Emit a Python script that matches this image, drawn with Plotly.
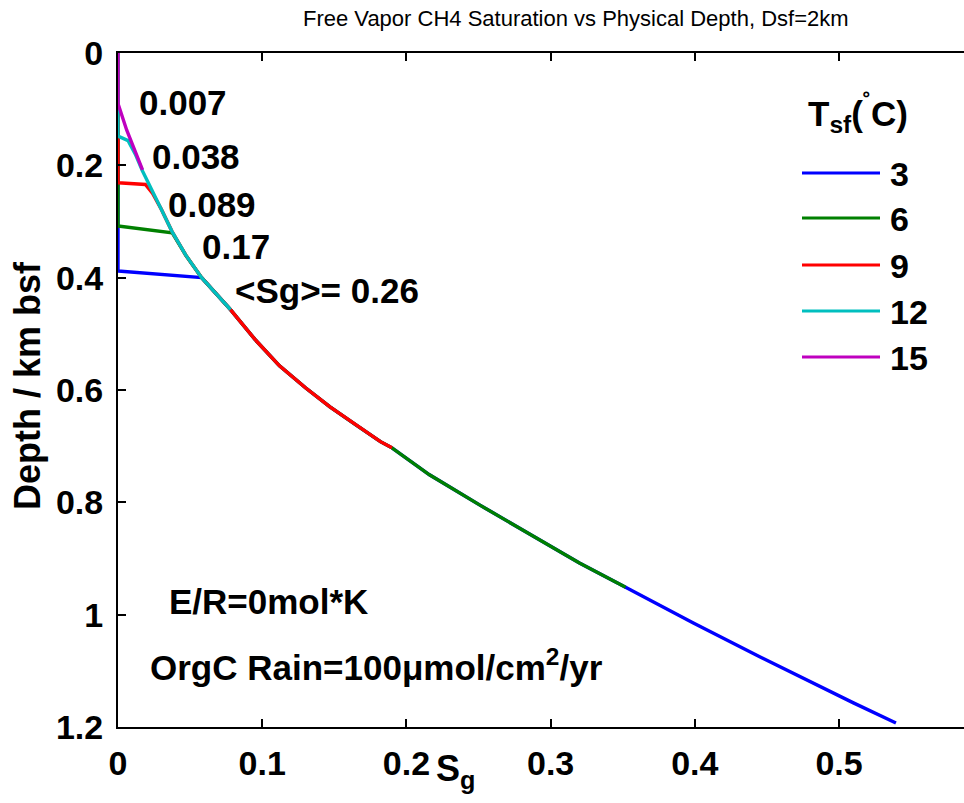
import plotly.graph_objects as go

FONT = "Liberation Sans"

# Temperatures (legend) and colours
temps = ["3", "6", "9", "12", "15"]
colors = ["#0000FF", "#008000", "#FF0000", "#00BFBF", "#BF00BF"]

# Sg (x) and depth km bsf (y) per series
sg_3 = [0.0, 0.0, 0.058, 0.078, 0.095, 0.112, 0.130, 0.147, 0.165, 0.182, 0.190, 0.216, 0.251, 0.286, 0.320, 0.352, 0.399, 0.445, 0.478, 0.510, 0.5395]
dp_3 = [0.0, 0.388, 0.400, 0.457, 0.510, 0.557, 0.596, 0.630, 0.662, 0.692, 0.703, 0.751, 0.805, 0.858, 0.908, 0.951, 1.015, 1.075, 1.117, 1.157, 1.193]

sg_6 = [0.0, 0.0, 0.0375, 0.047, 0.058, 0.078, 0.095, 0.112, 0.130, 0.147, 0.165, 0.182, 0.190, 0.216, 0.251, 0.286, 0.320, 0.352]
dp_6 = [0.0, 0.308, 0.320, 0.360, 0.400, 0.457, 0.510, 0.557, 0.596, 0.630, 0.662, 0.692, 0.703, 0.751, 0.805, 0.858, 0.908, 0.951]

sg_9 = [0.0, 0.0, 0.019, 0.024, 0.030, 0.0375, 0.047, 0.058, 0.078, 0.095, 0.112, 0.130, 0.147, 0.165, 0.182, 0.190]
dp_9 = [0.0, 0.231, 0.234, 0.250, 0.278, 0.318, 0.360, 0.400, 0.457, 0.510, 0.557, 0.596, 0.630, 0.662, 0.692, 0.703]

sg_12 = [0.0, 0.0, 0.007, 0.012, 0.017, 0.024, 0.030, 0.0375, 0.047, 0.058, 0.078]
dp_12 = [0.0, 0.148, 0.156, 0.180, 0.210, 0.245, 0.278, 0.318, 0.360, 0.400, 0.457]

sg_15 = [0.0, 0.0, 0.006, 0.012, 0.017]
dp_15 = [0.0, 0.090, 0.137, 0.175, 0.208]

series_sg = [sg_3, sg_6, sg_9, sg_12, sg_15]
series_dp = [dp_3, dp_6, dp_9, dp_12, dp_15]

# Mean Sg labels (text, x, y in data units)
mean_labels = ["0.007", "0.038", "0.089", "0.17", "&lt;Sg&gt;= 0.26"]
mean_x = [0.013, 0.022, 0.033, 0.057, 0.080]
mean_y = [0.089, 0.185, 0.270, 0.345, 0.422]

x_ticks = [0, 0.1, 0.2, 0.3, 0.4, 0.5]
x_tick_text = ["0", "0.1", "0.2", "0.3", "0.4", "0.5"]
y_ticks = [0, 0.2, 0.4, 0.6, 0.8, 1.0, 1.2]
y_tick_text = ["0", "0.2", "0.4", "0.6", "0.8", "1", "1.2"]

fig = go.Figure()
for t, c, xs, ys in zip(temps, colors, series_sg, series_dp):
    fig.add_trace(go.Scatter(x=xs, y=ys, mode="lines", name=t,
                             line=dict(color=c, width=3.4), showlegend=False))

W, H = 964, 803
ML, MT, MB = 118, 53, 76
fig.update_layout(
    width=W, height=H,
    margin=dict(l=ML, r=0, t=MT, b=MB),
    paper_bgcolor="white", plot_bgcolor="white",
    font=dict(family=FONT, color="black"),
    xaxis=dict(range=[0, (W - ML) / 1442.0], tickvals=x_ticks, ticktext=x_tick_text,
               showgrid=False, zeroline=False, showline=True, linecolor="black", linewidth=2,
               mirror="ticks", ticks="inside", ticklen=8, tickwidth=1.5, tickcolor="black",
               tickfont=dict(family=FONT, size=34, weight="bold"), ticklabelstandoff=5),
    yaxis=dict(range=[1.2, 0], tickvals=y_ticks, ticktext=y_tick_text,
               showgrid=False, zeroline=False, showline=True, linecolor="black", linewidth=2,
               mirror=False, ticks="inside", ticklen=8, tickwidth=1.5, tickcolor="black",
               tickfont=dict(family=FONT, size=34, weight="bold"), ticklabelstandoff=6),
)

ann = []
# title
ann.append(dict(text="Free Vapor CH4 Saturation vs Physical Depth, Dsf=2km",
                xref="paper", yref="paper", x=(576 - ML) / (W - ML), y=1 + (MT - 19) / (H - MT - MB),
                xanchor="center", yanchor="middle", showarrow=False,
                font=dict(family=FONT, size=22, color="black")))
# y label
ann.append(dict(text="<b>Depth / km bsf</b>", xref="paper", yref="paper",
                x=-(ML - 27) / (W - ML), y=1 - (386 - MT) / (H - MT - MB),
                xanchor="center", yanchor="middle", textangle=-90, showarrow=False,
                font=dict(family=FONT, size=36, color="black")))
# x label
ann.append(dict(text="<b>S<sub>g</sub></b>", xref="x", yref="paper", x=0.234,
                y=-(746 - (H - MB)) / (H - MT - MB), xanchor="center", yanchor="top",
                showarrow=False, font=dict(family=FONT, size=36, color="black")))
for txt, xx, yy in zip(mean_labels, mean_x, mean_y):
    ann.append(dict(text="<b>" + txt + "</b>", xref="x", yref="y", x=xx, y=yy,
                    xanchor="left", yanchor="middle", showarrow=False,
                    font=dict(family=FONT, size=35, color="black")))
ann.append(dict(text="<b>E/R=0mol*K</b>", xref="x", yref="y", x=0.034, y=0.977,
                xanchor="left", yanchor="middle", showarrow=False,
                font=dict(family=FONT, size=35, color="black")))
ann.append(dict(text="<b>OrgC Rain=100\u03bcmol/cm<sup>2</sup>/yr</b>", xref="x", yref="y",
                x=0.021, y=1.09, xanchor="left", yanchor="middle", showarrow=False,
                font=dict(family=FONT, size=35, color="black")))

# legend (manual)
def px_x(p):
    return (p - ML) / (W - ML)

def px_y(p):
    return 1 - (p - MT) / (H - MT - MB)

ann.append(dict(text="<b>T<sub>sf</sub>(<sup>\u02da</sup>C)</b>", xref="paper", yref="paper",
                x=px_x(806), y=px_y(114), xanchor="left", yanchor="middle", showarrow=False,
                font=dict(family=FONT, size=35, color="black")))
leg_y = [173, 218, 265, 311, 357]
shapes = []
for t, c, ly in zip(temps, colors, leg_y):
    shapes.append(dict(type="line", xref="paper", yref="paper", x0=px_x(802), x1=px_x(880),
                       y0=px_y(ly), y1=px_y(ly), line=dict(color=c, width=3)))
    ann.append(dict(text="<b>" + t + "</b>", xref="paper", yref="paper", x=px_x(888),
                    y=px_y(ly + 1), xanchor="left", yanchor="middle", showarrow=False,
                    font=dict(family=FONT, size=34, color="black")))

fig.update_layout(annotations=ann, shapes=shapes)
fig.write_html("out.html")
